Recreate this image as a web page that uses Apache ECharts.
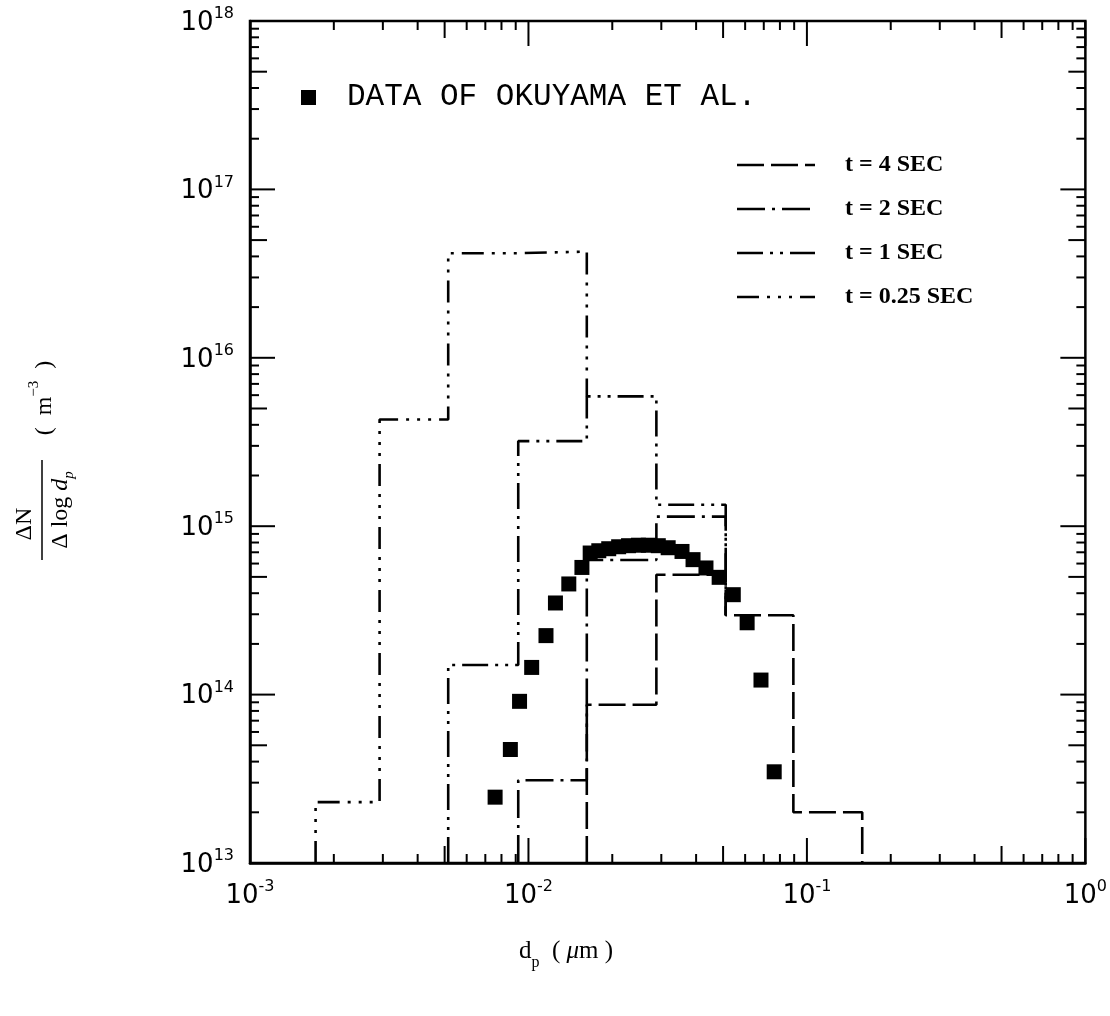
<!DOCTYPE html>
<html>
<head>
<meta charset="utf-8">
<script src="https://cdn.jsdelivr.net/npm/echarts@6/dist/echarts.min.js"></script>
<style>html,body{margin:0;padding:0;background:#fff}#c{width:1110px;height:1016px}</style>
</head>
<body>
<div id="c"></div>
<script>
// ---- data ----
const yFloor = 1e13;
const binEdges = [1.72e-3, 2.92e-3, 5.15e-3, 9.19e-3, 1.62e-2, 2.88e-2, 5.11e-2, 8.94e-2, 0.158];
// t = 0.25 SEC
const t025Start = 0;
const t025Values = [2.3e13, 4.3e15, 4.18e16, 4.27e16];
const t025End = 5.9e15;
// t = 1 SEC
const t1Start = 2;
const t1Values = [1.5e14, 3.2e15, 5.9e15, 1.34e15];
const t1End = 2.96e14;
// t = 2 SEC
const t2Start = 3;
const t2Values = [3.1e13, 6.3e14, 1.14e15];
const t2End = 2.96e14;
// t = 4 SEC
const t4Start = 4;
const t4Values = [8.7e13, 5.15e14, 2.96e14, 2.0e13];
const t4End = 1e13;
// Okuyama et al. data
const okuyamaDp = [7.59e-3, 8.61e-3, 9.29e-3, 1.027e-2, 1.156e-2, 1.25e-2, 1.396e-2, 1.556e-2, 1.666e-2,
  1.789e-2, 1.942e-2, 2.108e-2, 2.288e-2, 2.483e-2, 2.695e-2, 2.926e-2, 3.175e-2,
  3.56e-2, 3.90e-2, 4.34e-2, 4.84e-2, 5.44e-2, 6.10e-2, 6.84e-2, 7.63e-2];
const okuyamaN = [2.46e13, 4.72e13, 9.12e13, 1.45e14, 2.24e14, 3.50e14, 4.54e14, 5.69e14, 6.93e14,
  7.15e14, 7.35e14, 7.55e14, 7.66e14, 7.71e14, 7.71e14, 7.66e14, 7.45e14,
  7.08e14, 6.33e14, 5.65e14, 4.97e14, 3.92e14, 2.67e14, 1.22e14, 3.48e13];
// axes
const xDecades = [-3, -2, -1, 0];
const yDecades = [13, 14, 15, 16, 17, 18];
const tickMantissas = [1, 2, 3, 4, 5, 6, 7, 8, 9];
const legendLabels = ['t = 4 SEC', 't = 2 SEC', 't = 1 SEC', 't = 0.25 SEC'];
const dataLabel = 'DATA OF OKUYAMA ET AL.';

// ---- build ----
function stepData(start, values, endLevel) {
  const pts = [[binEdges[start], yFloor]];
  values.forEach((v, i) => pts.push([binEdges[start + i], v]));
  pts.push([binEdges[start + values.length], endLevel]);
  return pts;
}
function tickLen(m) { return m === 1 ? 25 : (m === 5 ? 17 : 9); }
const xTickData = [];
xDecades.forEach(d => tickMantissas.forEach(m => {
  const v = m * Math.pow(10, d);
  if (v >= 1e-3 * 0.999 && v <= 1.0001) xTickData.push([v, yFloor, tickLen(m)]);
}));
const yTickData = [];
yDecades.forEach(d => tickMantissas.forEach(m => {
  const v = m * Math.pow(10, d);
  if (v >= 1e13 * 0.999 && v <= 1e18 * 1.0001) yTickData.push([1e-3, v, tickLen(m)]);
}));

const dashes = {
  t4: [27, 7],
  t2: [28, 7, 3, 7],
  t1: [26, 7, 3, 7, 3, 7],
  t025: [22, 8, 3, 8, 3, 8, 3, 8]
};
const LW = 2.6;
function lineSeries(name, data, dash) {
  return {
    name, type: 'line', step: 'end', data, symbol: 'none', z: 3,
    lineStyle: { color: '#000', width: LW, type: dash, cap: 'butt' },
    animation: false
  };
}

const expLabel = v => {
  const e = Math.round(Math.log10(v));
  return '{b|10}{s|' + (e < 0 ? '-' + (-e) : e) + '}';
};
const labelRich = {
  b: { fontFamily: 'DejaVu Sans', fontSize: 26, color: '#000', lineHeight: 30, verticalAlign: 'bottom' },
  s: { fontFamily: 'DejaVu Sans', fontSize: 16, color: '#000', lineHeight: 30, verticalAlign: 'top' }
};

const chart = echarts.init(document.getElementById('c'), null, { renderer: 'canvas' });
const serifFont = 'Liberation Serif';
const legendYs = [165, 209, 253, 297];
const legendDash = [dashes.t4, dashes.t2, dashes.t1, dashes.t025];
const graphics = [];
legendYs.forEach((y, i) => {
  graphics.push({ type: 'line', shape: { x1: 737, y1: y, x2: 815, y2: y },
    style: { stroke: '#000', lineWidth: LW, lineDash: legendDash[i] } });
  graphics.push({ type: 'text', x: 845, y: y,
    style: { text: legendLabels[i], font: 'bold 24px "' + serifFont + '"', fill: '#000', textVerticalAlign: 'middle', verticalAlign: 'middle' } });
});
graphics.push({ type: 'rect', shape: { x: 301, y: 90, width: 15, height: 15 }, style: { fill: '#000' } });
graphics.push({ type: 'text', x: 347, y: 97,
  style: { text: dataLabel, font: '31px "Liberation Mono"', fill: '#000', verticalAlign: 'middle', textVerticalAlign: 'middle' } });
// x axis title
graphics.push({ type: 'text', x: 566, y: 955,
  style: {
    text: '{r|d}{sub|p}{r|  ( }{i|μ}{r|m )}',
    align: 'center', verticalAlign: 'middle',
    rich: {
      r: { fontFamily: serifFont, fontSize: 25, color: '#000', lineHeight: 32, verticalAlign: 'top' },
      i: { fontFamily: serifFont, fontStyle: 'italic', fontSize: 25, color: '#000', lineHeight: 32, verticalAlign: 'top' },
      sub: { fontFamily: serifFont, fontSize: 16, color: '#000', lineHeight: 32, verticalAlign: 'bottom' }
    }
  } });
// y axis title (rotated)
graphics.push({
  type: 'group', x: 42, y: 510, rotation: Math.PI / 2,
  children: [
    { type: 'line', shape: { x1: -50, y1: 0, x2: 50, y2: 0 }, style: { stroke: '#000', lineWidth: 1.5 } },
    { type: 'text', x: -14, y: -17, style: { text: 'ΔN', font: '24px "' + serifFont + '"', fill: '#000', align: 'center', verticalAlign: 'middle' } },
    { type: 'text', x: 0, y: 21, style: {
        text: '{r|Δ log }{i|d}{sub|p}', align: 'center', verticalAlign: 'middle',
        rich: {
          r: { fontFamily: serifFont, fontSize: 24, color: '#000', lineHeight: 28, verticalAlign: 'top' },
          i: { fontFamily: serifFont, fontStyle: 'italic', fontSize: 24, color: '#000', lineHeight: 28, verticalAlign: 'top' },
          sub: { fontFamily: serifFont, fontStyle: 'italic', fontSize: 15, color: '#000', lineHeight: 28, verticalAlign: 'bottom' }
        } } },
    { type: 'text', x: 112, y: 0, style: {
        text: '{r|(  m}{sup|−3}{r|  )}', align: 'center', verticalAlign: 'middle',
        rich: {
          r: { fontFamily: serifFont, fontSize: 24, color: '#000', lineHeight: 30, verticalAlign: 'bottom' },
          sup: { fontFamily: serifFont, fontSize: 15, color: '#000', lineHeight: 30, verticalAlign: 'top' }
        } } }
  ]
});

const option = {
  animation: false,
  backgroundColor: '#fff',
  grid: { left: 250, right: 17, top: 21, bottom: 153, show: true, borderColor: '#000', borderWidth: 2.5, backgroundColor: 'transparent' },
  xAxis: {
    type: 'log', logBase: 10, min: 1e-3, max: 1,
    axisLine: { show: true, lineStyle: { color: '#000', width: 2.5 } },
    axisTick: { show: false }, minorTick: { show: false },
    splitLine: { show: false }, minorSplitLine: { show: false },
    axisLabel: { formatter: expLabel, rich: labelRich, margin: 16, color: '#000' }
  },
  yAxis: {
    type: 'log', logBase: 10, min: 1e13, max: 1e18,
    axisLine: { show: true, lineStyle: { color: '#000', width: 2.5 } },
    axisTick: { show: false }, minorTick: { show: false },
    splitLine: { show: false }, minorSplitLine: { show: false },
    axisLabel: { formatter: expLabel, rich: labelRich, margin: 16, color: '#000' }
  },
  graphic: graphics,
  series: [
    {
      type: 'custom', name: 'xticks', data: xTickData, encode: { x: 0, y: 1 }, silent: true, z: 2,
      renderItem: (params, api) => {
        const x = api.value(0), len = api.value(2);
        const pb = api.coord([x, 1e13]);
        const pt = api.coord([x, 1e18]);
        const st = { stroke: '#000', lineWidth: 2 };
        return { type: 'group', children: [
          { type: 'line', shape: { x1: pb[0], y1: pb[1], x2: pb[0], y2: pb[1] - len }, style: st },
          { type: 'line', shape: { x1: pt[0], y1: pt[1], x2: pt[0], y2: pt[1] + len }, style: st }
        ] };
      }
    },
    {
      type: 'custom', name: 'yticks', data: yTickData, encode: { x: 0, y: 1 }, silent: true, z: 2,
      renderItem: (params, api) => {
        const y = api.value(1), len = api.value(2);
        const pl = api.coord([1e-3, y]);
        const pr = api.coord([1, y]);
        const st = { stroke: '#000', lineWidth: 2 };
        return { type: 'group', children: [
          { type: 'line', shape: { x1: pl[0], y1: pl[1], x2: pl[0] + len, y2: pl[1] }, style: st },
          { type: 'line', shape: { x1: pr[0], y1: pr[1], x2: pr[0] - len, y2: pr[1] }, style: st }
        ] };
      }
    },
    lineSeries('t = 0.25 SEC', stepData(t025Start, t025Values, t025End), dashes.t025),
    lineSeries('t = 1 SEC', stepData(t1Start, t1Values, t1End), dashes.t1),
    lineSeries('t = 2 SEC', stepData(t2Start, t2Values, t2End), dashes.t2),
    lineSeries('t = 4 SEC', stepData(t4Start, t4Values, t4End), dashes.t4),
    {
      name: dataLabel, type: 'scatter', symbol: 'rect', symbolSize: 15, z: 5,
      itemStyle: { color: '#000', opacity: 1 },
      data: okuyamaDp.map((d, i) => [d, okuyamaN[i]])
    }
  ]
};
chart.setOption(option);
</script>
</body>
</html>
